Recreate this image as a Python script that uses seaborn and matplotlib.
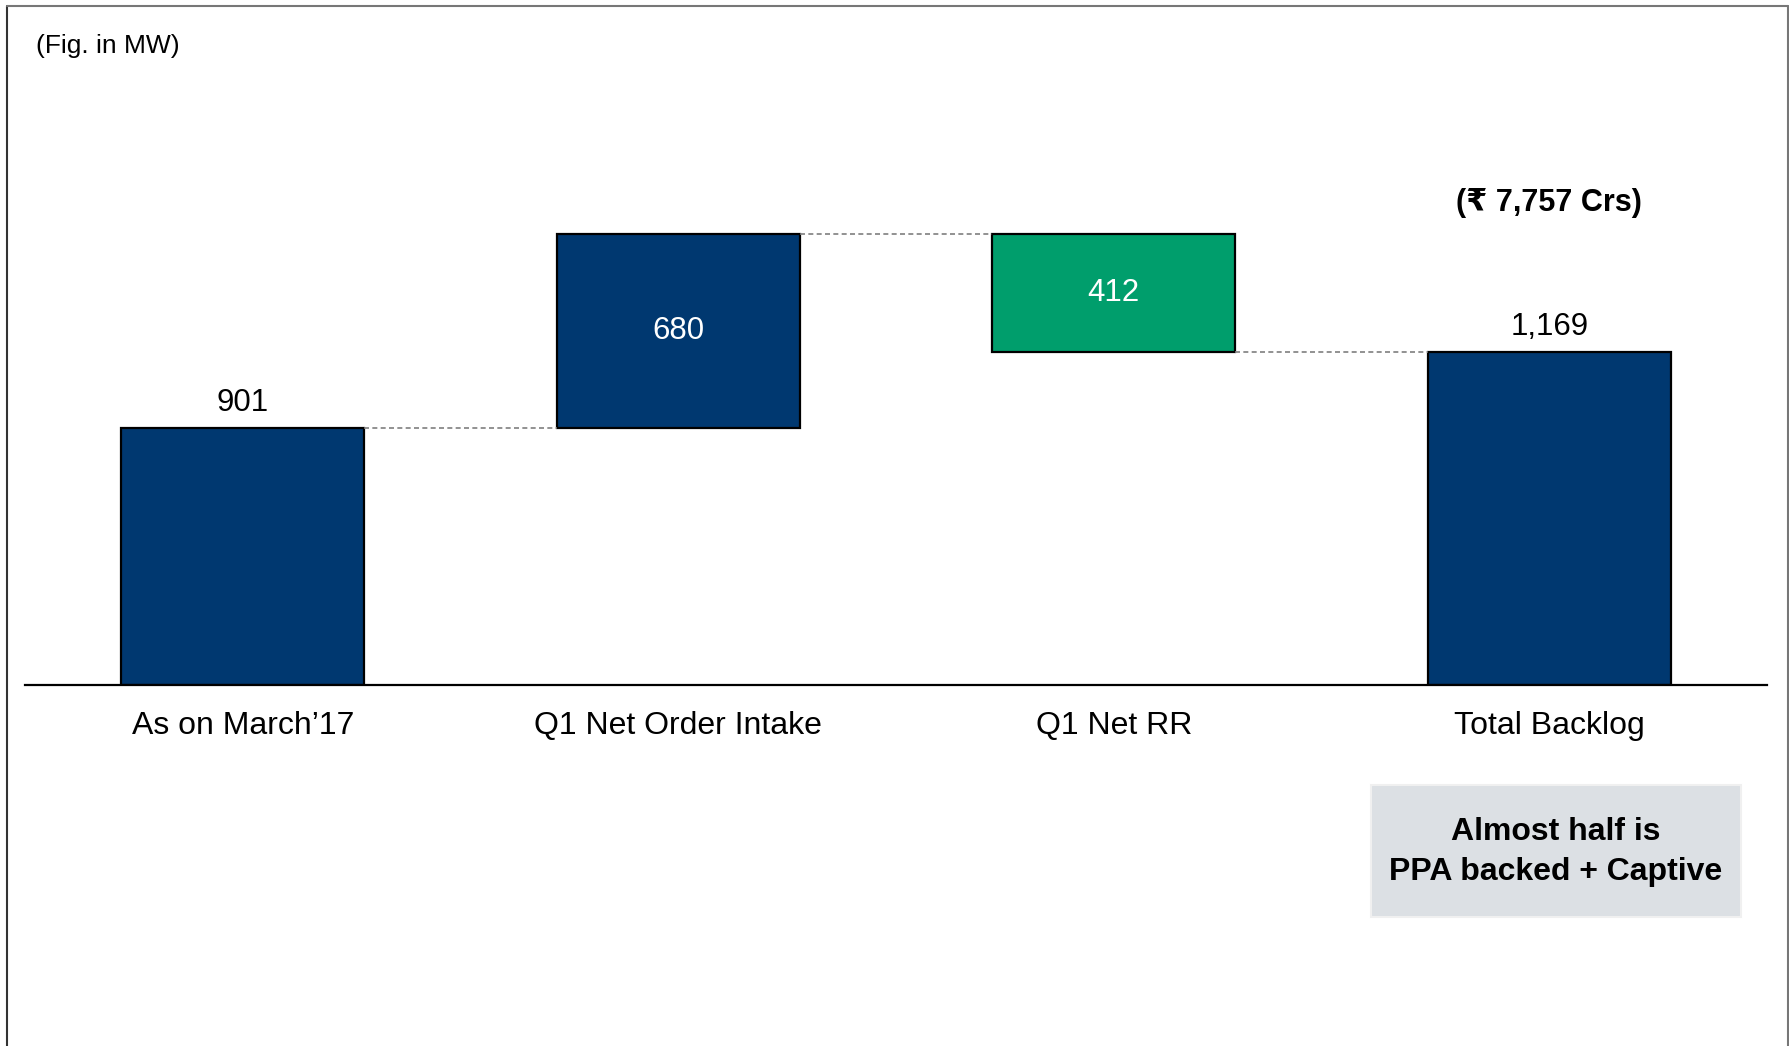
import pandas as pd
import numpy as np
import matplotlib
matplotlib.use("Agg")
import matplotlib.pyplot as plt
from matplotlib.lines import Line2D
from matplotlib.patches import Rectangle
import seaborn as sns

# Dados do gráfico (MW)
categorias = ["As on March\u201917", "Q1 Net Order Intake", "Q1 Net RR", "Total Backlog"]
valores = [901, 680, -412, 1169]
tipo = ["total", "delta", "delta", "total"]
rotulos = ["901", "680", "412", "1,169"]
cores = ["#003870", "#003870", "#009E6C", "#003870"]

sns.set_theme(style="white")
plt.rcParams["font.family"] = ["Liberation Sans", "DejaVu Sans"]
plt.rcParams["text.color"] = "black"

# Calcula base e altura de cada barra (cascata)
bases, alturas = [], []
acumulado = 0
for v, t in zip(valores, tipo):
    if t == "total":
        bases.append(0)
        alturas.append(v)
        acumulado = v
    else:
        novo = acumulado + v
        bases.append(min(acumulado, novo))
        alturas.append(abs(v))
        acumulado = novo

df = pd.DataFrame({"categoria": categorias, "altura": alturas, "base": bases})

fig = plt.figure(figsize=(17.9, 10.46), dpi=100)
ax = fig.add_axes([0.01397, 0.3451, 0.9732, 0.5593])

sns.barplot(data=df, x="categoria", y="altura", hue="categoria",
            palette=cores, legend=False, width=0.558, saturation=1,
            edgecolor="black", linewidth=1.6, ax=ax)

# Desloca cada barra para a base correta
for p, b in zip(ax.patches, bases):
    p.set_y(b)

ax.set_xlim(-0.5, 3.5)
ax.set_ylim(0, 2052)

# Linhas tracejadas conectando as barras
niveis = [valores[0], valores[0] + valores[1], valores[0] + valores[1] + valores[2]]
for i, nivel in enumerate(niveis):
    x0 = ax.patches[i].get_x() + ax.patches[i].get_width()
    x1 = ax.patches[i + 1].get_x()
    ax.plot([x0, x1], [nivel, nivel], color="#7f7f7f", linestyle=(0, (3, 2)),
            linewidth=1.2, zorder=1)

# Rótulos de valores
for i, (p, t) in enumerate(zip(ax.patches, tipo)):
    cx = p.get_x() + p.get_width() / 2
    if t == "total":
        ax.annotate(rotulos[i], (cx, p.get_y() + p.get_height()), xytext=(0, 7),
                    textcoords="offset points", ha="center", va="bottom",
                    fontsize=22.5, color="black")
    else:
        ax.text(cx, p.get_y() + p.get_height() / 2, rotulos[i], ha="center",
                va="center", fontsize=22.5, color="white")

ax.text(3, 1690, "(\u20b9 7,757 Crs)", ha="center", va="center", fontsize=22,
        fontweight="bold", color="black")

# Eixos
for s in ["top", "left", "right"]:
    ax.spines[s].set_visible(False)
ax.spines["bottom"].set_color("black")
ax.spines["bottom"].set_linewidth(1.6)
ax.set_yticks([])
ax.set_xlabel("")
ax.set_ylabel("")
ax.tick_params(axis="x", length=0, pad=19, labelsize=23, labelcolor="black")

fig.text(0.0201, 0.956, "(Fig. in MW)", ha="left", va="center", fontsize=19,
         color="black")

# Caixa de destaque
fig.add_artist(Rectangle((0.766, 0.1233), 0.2067, 0.1262, transform=fig.transFigure,
                         facecolor="#DCE0E4", edgecolor="#F0F0F0", linewidth=1.5))
fig.text(0.8693, 0.1855, "Almost half is\nPPA backed + Captive", ha="center",
         va="center", fontsize=23, fontweight="bold", linespacing=1.4,
         color="black")

# Moldura da figura
fig.add_artist(Line2D([0.004, 0.004], [0, 0.994], transform=fig.transFigure,
                      color="#333333", linewidth=1.5))
fig.add_artist(Line2D([0.004, 0.999], [0.994, 0.994], transform=fig.transFigure,
                      color="#777777", linewidth=1.5))
fig.add_artist(Line2D([0.999, 0.999], [0, 0.994], transform=fig.transFigure,
                      color="#777777", linewidth=1.5))

fig.savefig("out.png", dpi=100)
